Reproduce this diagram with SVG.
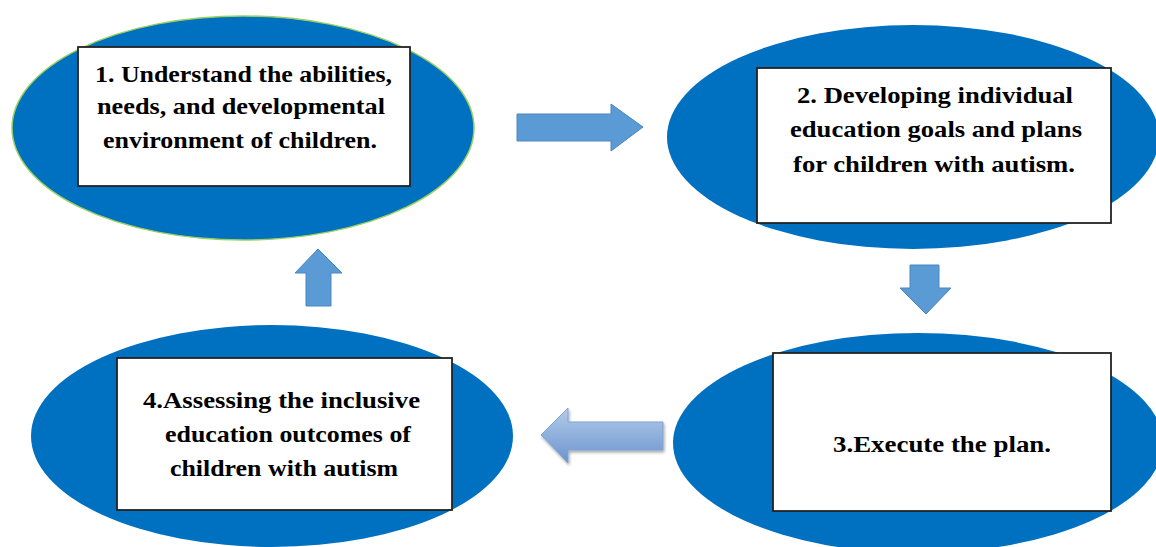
<svg xmlns="http://www.w3.org/2000/svg" width="1156" height="547" viewBox="0 0 1156 547">
  <defs>
    <style>
      .oval { fill: #0070c0; }
      .card { fill: #ffffff; stroke: #222222; stroke-width: 1.8; }
      .label { font-family: "Liberation Serif", "Times New Roman", serif; font-weight: bold; font-size: 24px; fill: #000000; }
      .flat { fill: #5b9bd5; stroke: #4a86c0; stroke-width: 1; }
    </style>
    <linearGradient id="leftGrad" x1="0" y1="0" x2="0" y2="1">
      <stop offset="0" stop-color="#b4cbe8"/>
      <stop offset="0.5" stop-color="#8fb0dc"/>
      <stop offset="1" stop-color="#6a93cc"/>
    </linearGradient>
    <filter id="drop" x="-20%" y="-20%" width="140%" height="150%">
      <feGaussianBlur in="SourceAlpha" stdDeviation="1.5"/>
      <feOffset dx="1" dy="2" result="b"/>
      <feComponentTransfer><feFuncA type="linear" slope="0.35"/></feComponentTransfer>
      <feMerge><feMergeNode/><feMergeNode in="SourceGraphic"/></feMerge>
    </filter>
  </defs>

  <rect width="1156" height="547" fill="#ffffff"/>

  <!-- step 1 -->
  <g id="step1">
    <ellipse class="oval" cx="243" cy="128" rx="231" ry="112" stroke="#9bd060" stroke-width="1.5"/>
    <rect class="card" x="78" y="47" width="332" height="139"/>
    <text class="label" x="95" y="82" textLength="297" lengthAdjust="spacingAndGlyphs">1. Understand the abilities,</text>
    <text class="label" x="97" y="114" textLength="288" lengthAdjust="spacingAndGlyphs">needs, and developmental</text>
    <text class="label" x="103" y="148" textLength="274" lengthAdjust="spacingAndGlyphs">environment of children.</text>
  </g>

  <!-- step 2 -->
  <g id="step2">
    <ellipse class="oval" cx="913" cy="137" rx="246" ry="112"/>
    <rect class="card" x="757" y="68" width="354" height="155"/>
    <text class="label" x="797" y="103" textLength="276" lengthAdjust="spacingAndGlyphs">2. Developing individual</text>
    <text class="label" x="790" y="137" textLength="292" lengthAdjust="spacingAndGlyphs">education goals and plans</text>
    <text class="label" x="793" y="172" textLength="282" lengthAdjust="spacingAndGlyphs">for children with autism.</text>
  </g>

  <!-- step 3 -->
  <g id="step3">
    <ellipse class="oval" cx="918" cy="443" rx="245" ry="110"/>
    <rect class="card" x="773" y="353" width="338" height="158"/>
    <text class="label" x="833" y="452" textLength="218" lengthAdjust="spacingAndGlyphs">3.Execute the plan.</text>
  </g>

  <!-- step 4 -->
  <g id="step4">
    <ellipse class="oval" cx="272" cy="436" rx="241" ry="111"/>
    <rect class="card" x="117" y="358" width="335" height="152"/>
    <text class="label" x="143" y="408" textLength="277" lengthAdjust="spacingAndGlyphs">4.Assessing the inclusive</text>
    <text class="label" x="165" y="442" textLength="246" lengthAdjust="spacingAndGlyphs">education outcomes of</text>
    <text class="label" x="170" y="476" textLength="228" lengthAdjust="spacingAndGlyphs">children with autism</text>
  </g>

  <!-- arrows between steps -->
  <g id="connectors">
    <polygon class="flat" points="517,114 611,114 611,104 643,127 611,151 611,141 517,141"/>
    <polygon class="flat" points="910,265 939,265 939,288 951,288 926,314 900,288 910,288"/>
    <polygon class="flat" points="306,306 331,306 331,273 342,273 318,249 295,273 306,273"/>
    <polygon points="663,422 568,422 568,408 541,435 568,463 568,450 663,450" fill="url(#leftGrad)" stroke="#7ea3d3" stroke-width="1" filter="url(#drop)"/>
  </g>
</svg>
